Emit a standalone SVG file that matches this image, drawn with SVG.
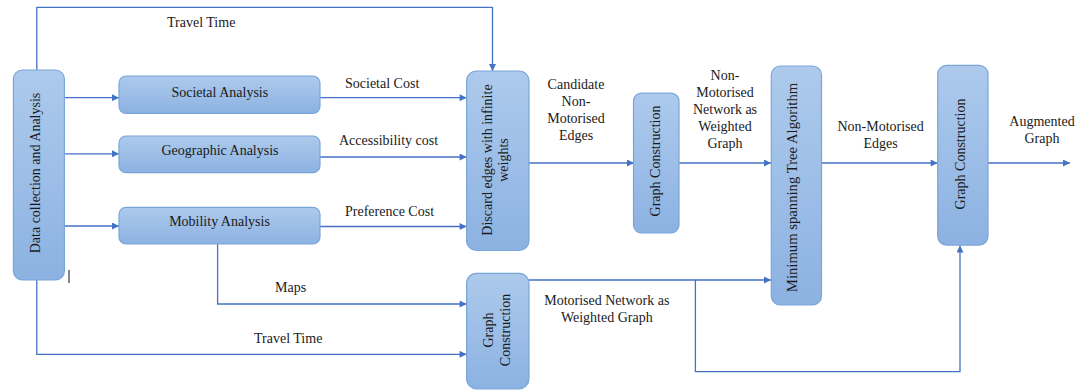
<svg xmlns="http://www.w3.org/2000/svg" width="1087" height="390" viewBox="0 0 1087 390">
<defs>
<linearGradient id="boxfill" x1="0" y1="0" x2="0" y2="1">
<stop offset="0" stop-color="#adcaec"/>
<stop offset="1" stop-color="#8cb2e2"/>
</linearGradient>
<marker id="arr" viewBox="0 0 10 10" refX="10" refY="5" markerWidth="8" markerHeight="7" markerUnits="userSpaceOnUse" orient="auto">
<path d="M0,0 L10,5 L0,10 Z" fill="#4472c4"/>
</marker>
<style>
.box{fill:url(#boxfill);stroke:#7aa5d9;stroke-width:1.2}
.t{font-family:"Liberation Serif","Times New Roman",serif;font-size:14px;fill:#1a1a1a}
.m{text-anchor:middle}
.c{fill:none;stroke:#4472c4;stroke-width:1.3}
.ca{fill:none;stroke:#4472c4;stroke-width:1.3;marker-end:url(#arr)}
</style>
</defs>
<rect width="1087" height="390" fill="#ffffff"/>

<g id="connectors">
<path class="ca" d="M36.8,70 V7.3 H492.5 V71"/>
<path class="ca" d="M64.4,97.7 H119"/>
<path class="ca" d="M64.4,153.8 H119"/>
<path class="ca" d="M64.4,226 H119"/>
<path class="ca" d="M320,97.7 H466.6"/>
<path class="ca" d="M320,157 H466.6"/>
<path class="ca" d="M320,226.5 H466.6"/>
<path class="ca" d="M217.6,244 V304 H466.6"/>
<path class="ca" d="M36.8,280 V354.3 H466.6"/>
<path class="ca" d="M529,163 H634"/>
<path class="ca" d="M679,163 H771"/>
<path class="ca" d="M821.5,163 H937.7"/>
<path class="ca" d="M988,163 H1070"/>
<path class="ca" d="M529,280 H771"/>
<path class="ca" d="M695.4,280 V371.7 H960 V245.5"/>
</g>

<g id="labels">
<text class="t" x="167" y="27">Travel Time</text>
<text class="t" x="345" y="88">Societal Cost</text>
<text class="t" x="339" y="145">Accessibility cost</text>
<text class="t" x="345" y="215.5">Preference Cost</text>
<text class="t" x="275" y="291.5">Maps</text>
<text class="t" x="254" y="342.5">Travel Time</text>
<text class="t m" x="576"><tspan x="576" y="88.5">Candidate</tspan><tspan x="576" y="105.7">Non-</tspan><tspan x="576" y="122.9">Motorised</tspan><tspan x="576" y="140.1">Edges</tspan></text>
<text class="t m" x="725"><tspan x="725" y="80">Non-</tspan><tspan x="725" y="97">Motorised</tspan><tspan x="725" y="114">Network as</tspan><tspan x="725" y="131">Weighted</tspan><tspan x="725" y="148">Graph</tspan></text>
<text class="t m" x="880.6"><tspan x="880.6" y="130.5">Non-Motorised</tspan><tspan x="880.6" y="147.5">Edges</tspan></text>
<text class="t m" x="1042"><tspan x="1042" y="126">Augmented</tspan><tspan x="1042" y="143">Graph</tspan></text>
<text class="t m" x="606.8"><tspan x="606.8" y="305">Motorised Network as</tspan><tspan x="606.8" y="322">Weighted Graph</tspan></text>
</g>

<line x1="69" y1="270" x2="69" y2="283" stroke="#333333" stroke-width="1.2"/>

<g id="data-collection">
<rect class="box" x="13.4" y="70" width="51" height="210" rx="9"/>
<text class="t m" transform="translate(40.3,173) rotate(-90)" x="0" y="0">Data collection and Analysis</text>
</g>

<g id="societal-analysis">
<rect class="box" x="119" y="76" width="201" height="37.3" rx="7"/>
<text class="t m" x="219.8" y="96.5">Societal Analysis</text>
</g>

<g id="geographic-analysis">
<rect class="box" x="119" y="136" width="201" height="36.7" rx="7"/>
<text class="t m" x="220" y="155">Geographic Analysis</text>
</g>

<g id="mobility-analysis">
<rect class="box" x="119" y="207.3" width="201" height="36.7" rx="7"/>
<text class="t m" x="219.5" y="226">Mobility Analysis</text>
</g>

<g id="discard">
<rect class="box" x="466.6" y="71" width="62.4" height="179.5" rx="10"/>
<text class="t m" transform="translate(492,160) rotate(-90)"><tspan x="0" y="0">Discard edges with infinite</tspan><tspan x="0" y="16">weights</tspan></text>
</g>

<g id="graph-construction-lower">
<rect class="box" x="466.6" y="273.3" width="62.4" height="115.5" rx="10"/>
<text class="t m" transform="translate(493,330) rotate(-90)"><tspan x="0" y="0">Graph</tspan><tspan x="0" y="17">Construction</tspan></text>
</g>

<g id="graph-construction-mid">
<rect class="box" x="633.5" y="93.2" width="45.5" height="139.8" rx="8"/>
<text class="t m" transform="translate(659.5,161) rotate(-90)">Graph Construction</text>
</g>

<g id="mst">
<rect class="box" x="771.3" y="66" width="50.2" height="239" rx="9"/>
<text class="t m" style="font-size:14.7px" transform="translate(797,187.5) rotate(-90)">Minimum spanning Tree Algorithm</text>
</g>

<g id="graph-construction-right">
<rect class="box" x="937.7" y="65.3" width="50.3" height="179.8" rx="9"/>
<text class="t m" transform="translate(964.5,154) rotate(-90)">Graph Construction</text>
</g>
</svg>
